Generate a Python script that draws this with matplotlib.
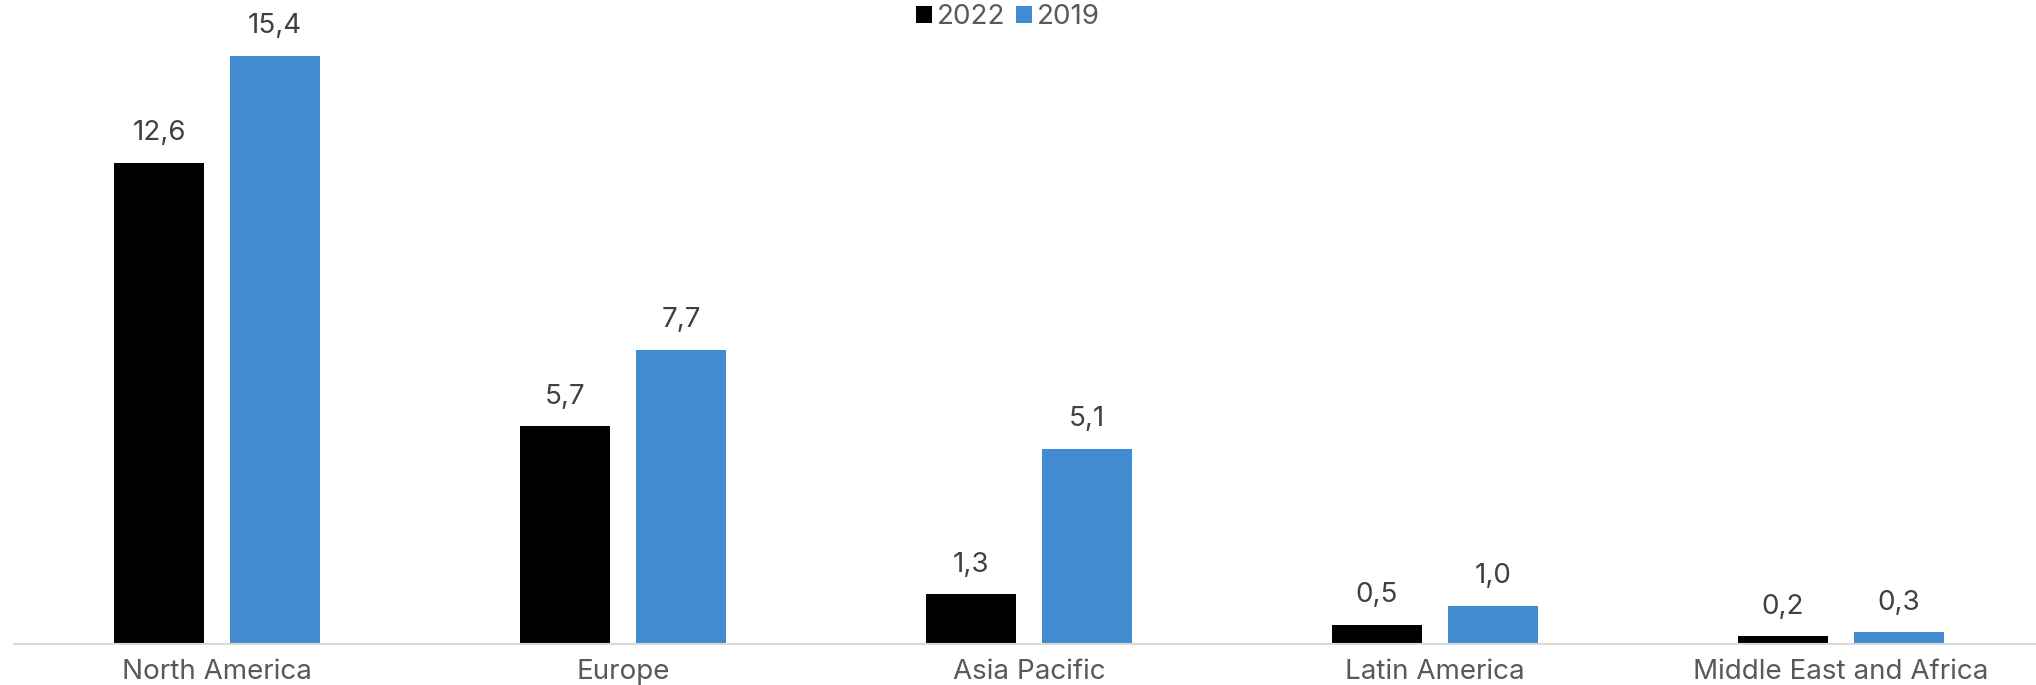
import matplotlib.pyplot as plt
import numpy as np

plt.rcParams['font.family'] = ['Inter', 'DejaVu Sans']

regions = ['North America', 'Europe', 'Asia Pacific', 'Latin America', 'Middle East and Africa']
vals_2022 = [12.6, 5.7, 1.3, 0.5, 0.2]
vals_2019 = [15.4, 7.7, 5.1, 1.0, 0.3]

grey = '#595959'
blue = '#418BD1'

fig = plt.figure(figsize=(20.36, 6.85), dpi=100)
ax = fig.add_axes([0.0069, 0.06, 0.997, 0.94])

x = np.arange(len(regions))
w = 0.222
off = 0.143
b1 = ax.bar(x - off, vals_2022, w, color='black', label='2022')
b2 = ax.bar(x + off, vals_2019, w, color=blue, label='2019')

# data labels with decimal comma
for bars in (b1, b2):
    for rect in bars:
        v = rect.get_height()
        ax.annotate(f'{v:.1f}'.replace('.', ','),
                    (rect.get_x() + rect.get_width() / 2, v),
                    xytext=(0, 12), textcoords='offset points',
                    ha='center', va='bottom', fontsize=20, color='#404040')

ax.set_xlim(-0.5, len(regions) - 0.5)
ax.set_ylim(0, 16.86)
ax.set_xticks(x)
ax.set_xticklabels(regions, fontsize=20, color=grey)
ax.tick_params(axis='x', length=0, pad=11)
ax.set_yticks([])
for s in ['top', 'right', 'left']:
    ax.spines[s].set_visible(False)
ax.spines['bottom'].set_color('#D9D9D9')
ax.spines['bottom'].set_linewidth(1.5)

leg = fig.legend(loc='upper center', bbox_to_anchor=(0.495, 1.03), ncol=2, frameon=False,
                 fontsize=20, handlelength=0.58, handleheight=0.58, handletextpad=0.15,
                 columnspacing=0.4)
for t in leg.get_texts():
    t.set_color(grey)

fig.savefig('out.png', dpi=100)
